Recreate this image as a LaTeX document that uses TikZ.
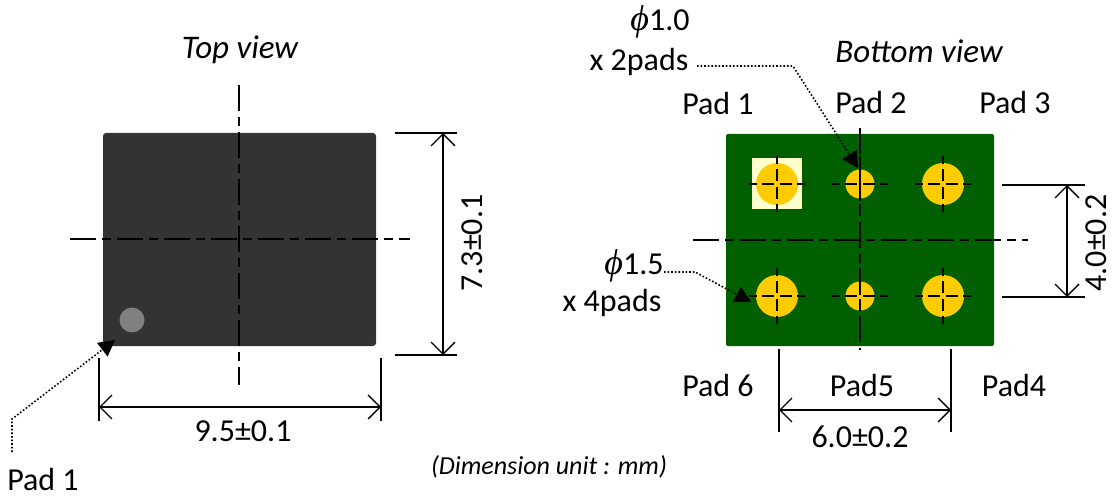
\documentclass[tikz,border=0pt]{standalone}
\usepackage{fontspec}
\setmainfont{Carlito}
\newfontfamily\phifont{Liberation Serif}
\usetikzlibrary{arrows.meta,positioning,calc}
\definecolor{bodygray}{HTML}{333333}
\definecolor{markgray}{HTML}{808080}
\definecolor{boardgreen}{HTML}{006000}
\definecolor{padyellow}{HTML}{FFCC00}
\definecolor{padpale}{HTML}{FFFFCC}
\tikzset{
  label/.style={inner sep=0pt,font=\fontsize{32}{36}\selectfont},
  viewlabel/.style={inner sep=0pt,font=\fontsize{33}{38}\selectfont\itshape},
  centerline/.style={line width=1.25pt,dash pattern=on 26pt off 6pt on 9pt off 6pt},
  crossline/.style={line width=1.2pt,dash pattern=on 8pt off 5pt on 12pt off 6pt on 12pt off 5pt on 8pt off 0pt},
  limitline/.style={line width=1.8pt},
  dimline/.style={line width=1.4pt,{Straight Barb[length=12pt,width=24pt,line width=1.4pt]}-{Straight Barb[length=12pt,width=24pt,line width=1.4pt]}},
  leader/.style={line width=1.6pt,dotted,-{Triangle[length=16pt,width=17pt]}},
  bigpad/.style={circle,fill=padyellow,minimum size=42pt,inner sep=0pt},
  smallpad/.style={circle,fill=padyellow,minimum size=29pt,inner sep=0pt}
}
\newcommand{\phisign}{{\phifont\itshape\fontsize{36}{36}\selectfont\symbol{"03D5}}}
\begin{document}
\begin{tikzpicture}[x=1pt,y=-1pt]
\useasboundingbox (0,0) rectangle (1112,497);
% top view
\node[viewlabel] (topview) at (240,50) {Top view};
\node[draw=none,fill=bodygray,rounded corners=3pt,minimum width=273pt,minimum height=213pt,inner sep=0pt] (body) at (239.5,239.5) {};
\node[circle,fill=markgray,minimum size=25pt,inner sep=0pt] (mark) at (132,320) {};
\draw[centerline] (239,85) -- (239,385);
\draw[centerline] (70,239) -- (410,239);
\coordinate (bodytop) at (395,133);
\coordinate (bodybottom) at (395,355);
\draw[limitline] (bodytop) -- +(62,0);
\draw[limitline] (bodybottom) -- +(62,0);
\draw[dimline] (443,133) -- (443,355);
\node[label,rotate=90] (heightlabel) at (472,243) {7.3±0.1};
\draw[limitline] (99,358) -- (99,421);
\draw[limitline] (381,358) -- (381,421);
\draw[dimline] (99,407) -- (381,407);
\node[label] (widthlabel) at (243,431) {9.5±0.1};
\node[label] (padone) at (43,480) {Pad 1};
\coordinate (padonestart) at (12,452);
\coordinate (padonebend) at (12,419);
\coordinate (padonetip) at (115,340);
\draw[leader] (padonestart) -- (padonebend) -- (padonetip);
% bottom view
\node[viewlabel] (bottomview) at (919,51) {Bottom view};
\node[fill=boardgreen,rounded corners=2pt,minimum width=268pt,minimum height=212pt,inner sep=0pt] (board) at (860,240) {};
\node[fill=padpale,minimum width=50pt,minimum height=51pt,inner sep=0pt] (keepout) at (777,183.5) {};
\node[bigpad] (padA) at (777,184) {};
\node[smallpad] (padB) at (860,184) {};
\node[bigpad] (padC) at (943,184) {};
\node[bigpad] (padD) at (943,296) {};
\node[smallpad] (padE) at (860,296) {};
\node[bigpad] (padF) at (777,296) {};
\foreach \pad in {padA,padB,padC,padD,padE,padF}{
  \draw[crossline] ($(\pad)+(-28,0)$) -- ($(\pad)+(28,0)$);
  \draw[crossline] ($(\pad)+(0,-28)$) -- ($(\pad)+(0,28)$);
}
\draw[centerline] (860,128) -- (860,350);
\draw[centerline] (693,240) -- (1028,240);
\node[label] (padtextA) at (718,104) {Pad 1};
\node[label] (padtextB) at (871,103) {Pad 2};
\node[label] (padtextC) at (1015,103) {Pad 3};
\node[label] (padtextF) at (718,386) {Pad 6};
\node[label] (padtextE) at (862,386) {Pad5};
\node[label] (padtextD) at (1014,386) {Pad4};
\draw[limitline] (1002,185) -- (1085,185);
\draw[limitline] (1002,297) -- (1085,297);
\draw[dimline] (1067,185) -- (1067,297);
\node[label,rotate=90] (pitchlabel) at (1096,243) {4.0±0.2};
\draw[limitline] (779,349) -- (779,432);
\draw[limitline] (951,349) -- (951,432);
\draw[dimline] (779,410) -- (951,410);
\node[label] (spanlabel) at (860,437) {6.0±0.2};
\node[label] (smalldia) at (660,22) {\phisign 1.0};
\node[label] (smallcount) at (639,62) {x 2pads};
\node[label] (bigdia) at (634,266) {\phisign 1.5};
\node[label] (bigcount) at (612,303) {x 4pads};
\coordinate (smallstart) at (697,66);
\coordinate (smallbend) at (793,66);
\coordinate (bigstart) at (664,272);
\coordinate (bigbend) at (695,272);
\draw[leader] (smallstart) -- (smallbend) -- (858,168);
\draw[leader] (bigstart) -- (bigbend) -- (751,302);
\node[inner sep=0pt,font=\fontsize{26}{30}\selectfont\itshape] (unitnote) at (549,467) {(Dimension unit : mm)};
\end{tikzpicture}
\end{document}
